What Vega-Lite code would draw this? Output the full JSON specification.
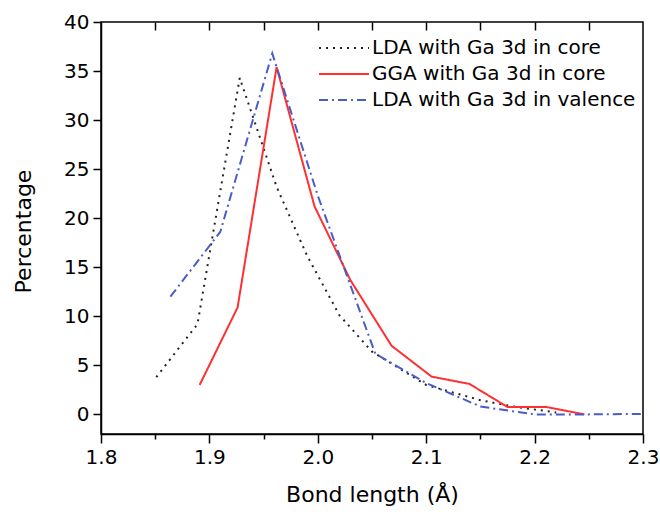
{
  "$schema": "https://vega.github.io/schema/vega-lite/v6.json",
  "width": 542,
  "height": 412,
  "autosize": {"type": "none"},
  "padding": {"left": 101, "top": 22, "right": 17, "bottom": 81},
  "background": "white",
  "config": {
    "view": {"stroke": "#000000", "strokeWidth": 1.5},
    "font": "DejaVu Sans",
    "axis": {"grid": false, "domainColor": "#000000", "domainWidth": 1.5, "tickColor": "#000000", "tickWidth": 1.5, "labelColor": "#000000", "titleColor": "#000000", "labelFont": "DejaVu Sans", "titleFont": "DejaVu Sans", "labelFontSize": 20, "titleFontSize": 22, "titleFontWeight": "normal"},
    "legend": {"labelFont": "DejaVu Sans", "labelFontSize": 20, "labelColor": "#000000", "labelLimit": 0}
  },
  "data": {"values": [
    {"series": "LDA with Ga 3d in core", "x": 1.851, "y": 3.8},
    {"series": "LDA with Ga 3d in core", "x": 1.889, "y": 9.2},
    {"series": "LDA with Ga 3d in core", "x": 1.928, "y": 34.3},
    {"series": "LDA with Ga 3d in core", "x": 1.962, "y": 23.2},
    {"series": "LDA with Ga 3d in core", "x": 1.99, "y": 16.2},
    {"series": "LDA with Ga 3d in core", "x": 2.02, "y": 10.1},
    {"series": "LDA with Ga 3d in core", "x": 2.05, "y": 6.4},
    {"series": "LDA with Ga 3d in core", "x": 2.1, "y": 3.0},
    {"series": "LDA with Ga 3d in core", "x": 2.15, "y": 1.45},
    {"series": "LDA with Ga 3d in core", "x": 2.18, "y": 0.8},
    {"series": "LDA with Ga 3d in core", "x": 2.22, "y": 0.2},
    {"series": "GGA with Ga 3d in core", "x": 1.891, "y": 3.0},
    {"series": "GGA with Ga 3d in core", "x": 1.926, "y": 10.9},
    {"series": "GGA with Ga 3d in core", "x": 1.962, "y": 35.4},
    {"series": "GGA with Ga 3d in core", "x": 1.997, "y": 21.2},
    {"series": "GGA with Ga 3d in core", "x": 2.03, "y": 13.7},
    {"series": "GGA with Ga 3d in core", "x": 2.068, "y": 7.0},
    {"series": "GGA with Ga 3d in core", "x": 2.105, "y": 3.85},
    {"series": "GGA with Ga 3d in core", "x": 2.14, "y": 3.1},
    {"series": "GGA with Ga 3d in core", "x": 2.175, "y": 0.75},
    {"series": "GGA with Ga 3d in core", "x": 2.211, "y": 0.75},
    {"series": "GGA with Ga 3d in core", "x": 2.246, "y": 0.0},
    {"series": "LDA with Ga 3d in valence", "x": 1.864, "y": 12.0},
    {"series": "LDA with Ga 3d in valence", "x": 1.91, "y": 18.6},
    {"series": "LDA with Ga 3d in valence", "x": 1.958, "y": 36.8},
    {"series": "LDA with Ga 3d in valence", "x": 2.0, "y": 22.3},
    {"series": "LDA with Ga 3d in valence", "x": 2.053, "y": 6.2},
    {"series": "LDA with Ga 3d in valence", "x": 2.1, "y": 3.2},
    {"series": "LDA with Ga 3d in valence", "x": 2.15, "y": 0.8},
    {"series": "LDA with Ga 3d in valence", "x": 2.2, "y": 0.0},
    {"series": "LDA with Ga 3d in valence", "x": 2.25, "y": 0.0},
    {"series": "LDA with Ga 3d in valence", "x": 2.3, "y": 0.05}
  ]},
  "layer": [
    {
      "mark": {"type": "line", "strokeWidth": 2, "clip": true},
      "encoding": {
        "x": {"field": "x", "type": "quantitative",
          "scale": {"domain": [1.8, 2.3], "nice": false, "zero": false},
          "axis": {"orient": "bottom", "title": "Bond length (Å)",
            "values": [1.8, 1.85, 1.9, 1.95, 2.0, 2.05, 2.1, 2.15, 2.2, 2.25, 2.3],
            "labelExpr": "abs(datum.value*10 - round(datum.value*10)) < 0.01 ? format(datum.value, '.1f') : ''",
            "tickSize": {"condition": {"test": "abs(datum.value*10 - round(datum.value*10)) > 0.01", "value": 5}, "value": 9},
            "labelPadding": 4, "labelFlush": false,
            "titleY": 60, "titleBaseline": "middle"}},
        "y": {"field": "y", "type": "quantitative",
          "scale": {"domain": [-2, 40], "nice": false, "zero": false},
          "axis": {"title": "Percentage",
            "values": [0, 2.5, 5, 7.5, 10, 12.5, 15, 17.5, 20, 22.5, 25, 27.5, 30, 32.5, 35, 37.5, 40],
            "labelExpr": "abs(datum.value/5 - round(datum.value/5)) < 0.01 ? format(datum.value, 'd') : ''",
            "tickSize": {"condition": {"test": "abs(datum.value/5 - round(datum.value/5)) > 0.01", "value": 4}, "value": 8},
            "labelPadding": 4, "labelFlush": false,
            "titleAngle": -90, "titleX": -78, "titleY": 209, "titleBaseline": "middle", "titleAlign": "center"}},
        "color": {"field": "series", "type": "nominal",
          "scale": {"domain": ["LDA with Ga 3d in core", "GGA with Ga 3d in core", "LDA with Ga 3d in valence"], "range": ["#222222", "#ff3030", "#4a5cc8"]},
          "legend": {"title": null, "orient": "none", "legendX": 217, "legendY": 15, "padding": 0, "offset": 0, "labelLimit": 0,
            "symbolType": "M-1,0H4", "symbolSize": 400, "symbolStrokeWidth": 2, "labelOffset": 32, "rowPadding": 5}},
        "strokeDash": {"field": "series", "type": "nominal",
          "scale": {"domain": ["LDA with Ga 3d in core", "GGA with Ga 3d in core", "LDA with Ga 3d in valence"], "range": [[2, 5], [1, 0], [9, 4, 2, 4]]},
          "legend": null}
      }
    },
    {
      "mark": {"type": "point", "opacity": 0},
      "encoding": {
        "x": {"field": "x", "type": "quantitative",
          "axis": {"orient": "top", "labels": false, "domain": false, "title": null,
            "values": [1.85, 1.9, 1.95, 2.0, 2.05, 2.1, 2.15, 2.2, 2.25],
            "tickSize": 8, "offset": -8}},
        "y": {"field": "y", "type": "quantitative"}
      }
    }
  ],
  "resolve": {"axis": {"x": "independent"}}
}
